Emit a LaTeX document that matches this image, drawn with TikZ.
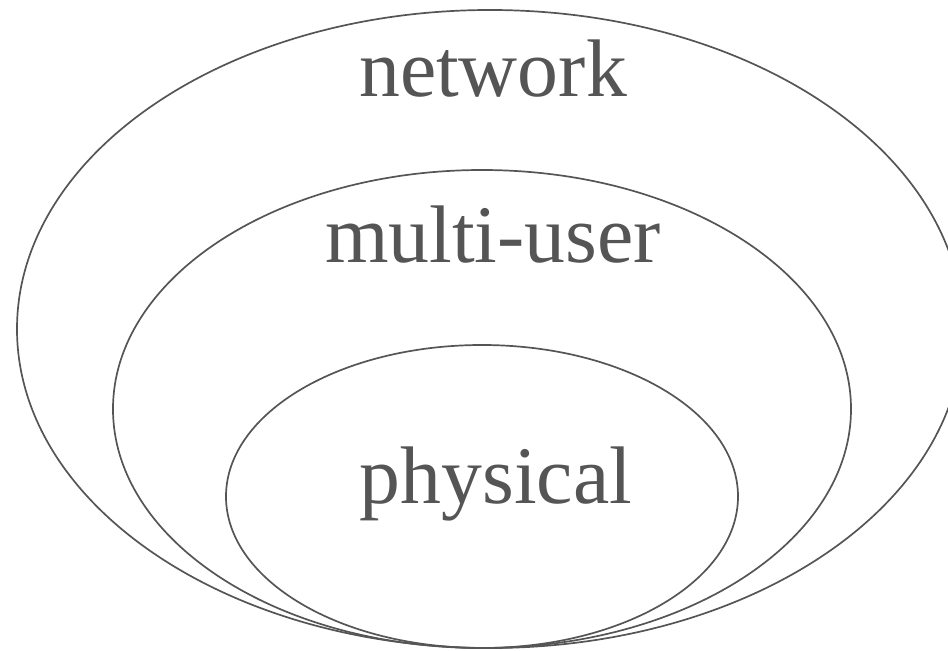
\documentclass[tikz,border=0pt]{standalone}
\usepackage{fontspec}
\setmainfont{Liberation Serif}
\usetikzlibrary{shapes.geometric}
\definecolor{ringgray}{HTML}{555555}

\begin{document}
\begin{tikzpicture}[x=1bp, y=-1bp,
  ring/.style = {shape=ellipse, draw=ringgray, line width=1.7bp,
    inner sep=0pt, outer sep=0pt},
  ringtext/.style = {text=ringgray, font=\fontsize{82}{98}\selectfont,
    anchor=base, inner sep=0pt}]
  \useasboundingbox (0,0) rectangle (948,651);

  % three nested rings, all touching at the bottom
  \node[ring, minimum width=946bp, minimum height=638bp] (network) at (490,329) {};
  \node[ring, minimum width=738bp, minimum height=478bp] (multiuser) at (482,409) {};
  \node[ring, minimum width=512bp, minimum height=303bp] (physical) at (482,496.5) {};

  \node[ringtext] (networktext) at (493,97) {network};
  \node[ringtext] (multiusertext) at (493,262) {multi-user};
  \node[ringtext] (physicaltext) at (496,503) {physical};
\end{tikzpicture}
\end{document}
